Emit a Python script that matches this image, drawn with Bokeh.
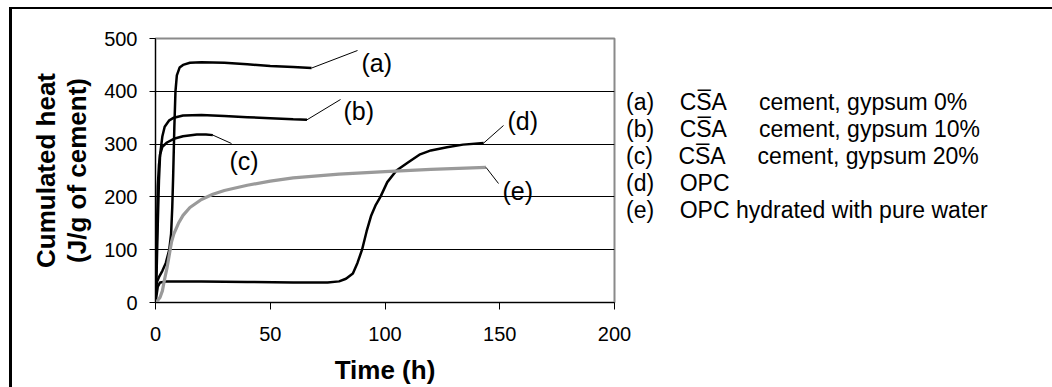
from bokeh.plotting import figure
from bokeh.models import Label, FixedTicker, Range1d, Legend, LegendItem
from bokeh.embed import file_html
from bokeh.resources import INLINE

# ---------------- data ----------------
a_t = [0, 0.3, 0.7, 1.5, 3, 4.5, 6, 6.8, 7.3, 7.7, 8.2, 8.7, 9.3, 10.5, 12, 15, 20, 30, 40, 50, 60, 68]
a_q = [0, 30, 40, 48, 60, 75, 100, 130, 180, 240, 330, 400, 430, 445, 450, 454, 455, 454, 451, 448, 446, 444]

b_t = [0, 0.5, 1, 1.5, 2, 3, 4, 6, 8, 12, 20, 30, 40, 50, 60, 66]
b_q = [0, 60, 150, 230, 280, 315, 333, 345, 350, 354, 355, 353, 351, 349, 347, 346]

c_t = [0, 0.3, 0.7, 1, 1.5, 2, 3, 5, 8, 12, 18, 22, 25]
c_q = [0, 50, 150, 220, 260, 280, 295, 303, 310, 315, 318, 318, 317]

d_t = [0, 0.5, 1, 2, 5, 20, 40, 60, 75, 80, 83, 86, 88, 90, 92, 94, 96, 98, 101, 105, 110, 115, 120, 127, 134, 143]
d_q = [0, 15, 30, 38, 40, 40, 39, 38, 38, 40, 45, 55, 75, 100, 135, 165, 185, 200, 228, 250, 265, 280, 288, 294, 299, 302]

e_t = [0, 1, 2, 3, 4, 5, 6, 7, 8, 10, 12, 15, 20, 25, 30, 40, 50, 60, 80, 100, 120, 144]
e_q = [0, 4, 10, 22, 45, 65, 90, 115, 130, 150, 165, 180, 195, 205, 212, 222, 230, 236, 243, 248, 252, 256]

x_ticks = [0, 50, 100, 150, 200]
y_ticks = [0, 100, 200, 300, 400, 500]

curve_keys = ["(a)", "(b)", "(c)", "(d)", "(e)"]
legend_names = ["CS\u0305A", "CS\u0305A", "CS\u0305A", "OPC", "OPC hydrated with pure water"]
legend_rest = ["cement, gypsum 0%", "cement, gypsum 10%", "cement, gypsum 20%", "", ""]

x_title = "Time (h)"
y_title = "Cumulated heat\n(J/g of cement)"

# ---------------- layout ----------------
W, H = 1052, 387
OX, OY = 12, 9                 # canvas origin inside the outer black border
FL, FR, FT, FB = 155, 614, 38, 302   # plot frame in page pixels
FONT = "Liberation Sans"
NB = "\u00a0"

p = figure(frame_width=FR - FL, frame_height=FB - FT,
           x_range=Range1d(0, 200), y_range=Range1d(0, 500),
           output_backend="svg", toolbar_location=None,
           min_border_left=FL - OX, min_border_right=W - FR,
           min_border_top=FT - OY, min_border_bottom=H - FB,
           margin=(OY - 2, 0, 0, OX - 3),
           styles={"border-top": "2px solid black", "border-left": "3px solid black",
                   "border-right": "0px none white", "border-bottom": "0px none white",
                   "outline": "none", "box-shadow": "none"})

def dx(px):
    return (px - FL) / (FR - FL) * 200.0

def dy(py):
    return (FB - py) / (FB - FT) * 500.0

p.background_fill_color = "white"
p.border_fill_color = "white"
p.outline_line_color = "#8a8a8a"
p.outline_line_width = 2

p.xgrid.visible = False
p.ygrid.ticker = FixedTicker(ticks=y_ticks[1:-1])
p.ygrid.grid_line_color = "black"
p.ygrid.grid_line_width = 1

for ax in (p.xaxis[0], p.yaxis[0]):
    ax.axis_line_color = "black"
    ax.axis_line_width = 1
    ax.major_tick_line_color = "black"
    ax.major_tick_in = 0
    ax.minor_tick_line_color = None
    ax.major_label_text_font = FONT
    ax.major_label_text_font_size = "20px"
    ax.major_label_text_color = "black"
    ax.axis_label_text_font = FONT
    ax.axis_label_text_font_size = "26px"
    ax.axis_label_text_font_style = "bold"
    ax.axis_label_text_color = "black"
    ax.axis_label_text_line_height = 1.05

p.xaxis.ticker = FixedTicker(ticks=x_ticks)
p.yaxis.ticker = FixedTicker(ticks=y_ticks)
p.xaxis.major_tick_out = 7
p.yaxis.major_tick_out = 6
p.xaxis.major_label_standoff = 17
p.yaxis.major_label_standoff = 12
p.xaxis.axis_label = x_title
p.yaxis.axis_label = y_title
p.xaxis.axis_label_standoff = 11
p.yaxis.axis_label_standoff = 9

# curves
series = [(a_t, a_q, "black", 2.5), (b_t, b_q, "black", 2.5), (c_t, c_q, "black", 2.5),
          (d_t, d_q, "black", 2.5), (e_t, e_q, "#9a9a9a", 3.2)]
renderers = []
for t, q, col, lw in series:
    renderers.append(p.line(t, q, line_color=col, line_width=lw))

# leader lines and labels: (end pixel of leader), (label left pixel, label middle pixel)
leader_px = [(357, 50), (340, 99), (231, 143), (503, 125), (498, 183)]
label_px = [(361, 62), (343, 110), (229, 160), (507, 120), (502, 190)]
for (t, q, col, lw), key, (lx, ly), (tx, ty) in zip(series, curve_keys, leader_px, label_px):
    p.segment(x0=[t[-1]], y0=[q[-1]], x1=[dx(lx)], y1=[dy(ly)], line_color="black", line_width=1)
    p.add_layout(Label(x=dx(tx), y=dy(ty), text=key, text_font=FONT, text_font_size="25px",
                       text_baseline="middle", text_align="left", text_color="black"))

# legend (text only) in the right side panel
items = []
for key, name, rest, r in zip(curve_keys, legend_names, legend_rest, renderers):
    txt = key + NB * 4 + name
    if rest:
        txt += NB * 5 + rest
    items.append(LegendItem(label=txt, renderers=[r]))

legend = Legend(items=items, location=(12, 78), orientation="vertical",
                glyph_width=0, glyph_height=25, label_height=25, label_width=10,
                spacing=0, padding=0, margin=0, label_standoff=0,
                border_line_color=None, background_fill_alpha=0,
                label_text_font=FONT, label_text_font_size="23px",
                label_text_color="black", label_text_line_height=1.0)
p.add_layout(legend, "right")

open("out.html", "w").write(file_html(p, INLINE))
